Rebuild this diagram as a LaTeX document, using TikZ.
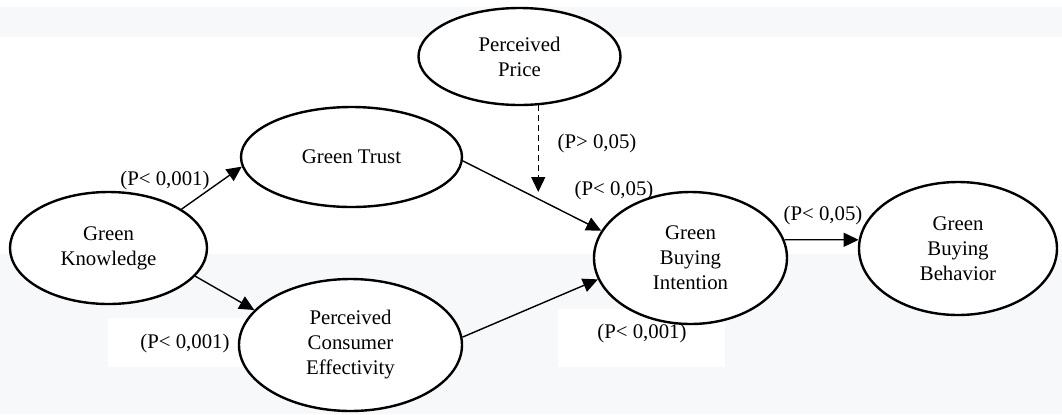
\documentclass[tikz,border=0pt]{standalone}
\usepackage{fontspec}
\setmainfont{Liberation Serif}
\usetikzlibrary{shapes.geometric,arrows.meta}
\definecolor{bggrey}{RGB}{247,248,250}
\tikzset{
  construct/.style={ellipse, draw=black, line width=1.2pt, fill=white, inner sep=0pt,
    align=center, font=\fontsize{10.4}{12.5}\selectfont},
  plabel/.style={inner sep=0pt, font=\fontsize{10.4}{12.5}\selectfont},
  path/.style={line width=0.7pt, -{Triangle[length=7.5pt,width=7pt]}},
  nspath/.style={path, dash pattern=on 3pt off 2pt}
}
\begin{document}
\begin{tikzpicture}[x=0.5pt,y=-0.5pt]
\useasboundingbox (0,0) rectangle (1062,414);
% background bands
\fill[bggrey] (0,7) rectangle (1062,37);
\fill[bggrey] (0,254) rectangle (1062,414);
\fill[white] (108,318) rectangle (245,367);
\fill[white] (558,309) rectangle (725,367);
% constructs
\node[construct, minimum width=101pt, minimum height=48.5pt] (pp) at (519.5,56.5) {Perceived\\Price};
\node[construct, minimum width=110.5pt, minimum height=50pt] (gt) at (351.5,157) {Green Trust};
\node[construct, minimum width=98.5pt, minimum height=56pt] (gk) at (108.5,248) {Green\\Knowledge};
\node[construct, minimum width=111.5pt, minimum height=66pt] (pce) at (350.5,345) {Perceived\\Consumer\\Effectivity};
\node[construct, minimum width=96.5pt, minimum height=66pt] (gbi) at (690.5,258) {Green\\Buying\\Intention};
\node[construct, minimum width=99pt, minimum height=66.5pt] (gbb) at (958,248.5) {Green\\Buying\\Behavior};
% paths
\draw[path] (gk.28) -- (gt.185);
\draw[path] (gk.342) -- (pce.160);
\draw[path] (gt.358) -- (gbi.163.5);
\draw[path] (pce.4) -- (gbi.193);
\draw[path] (gbi.11) -- (gbb.175);
\coordinate (mod) at (538,192);
\draw[nspath] (pp.291) -- (pp.291 |- mod);
% labels
\node[plabel] (l1) at (165,180) {(P< 0,001)};
\node[plabel] (l2) at (185,343) {(P< 0,001)};
\node[plabel] (l3) at (597,143) {(P> 0,05)};
\node[plabel] (l4) at (614,190) {(P< 0,05)};
\node[plabel] (l5) at (823,215) {(P< 0,05)};
\node[plabel] (l6) at (642,333) {(P< 0,001)};
\end{tikzpicture}
\end{document}
